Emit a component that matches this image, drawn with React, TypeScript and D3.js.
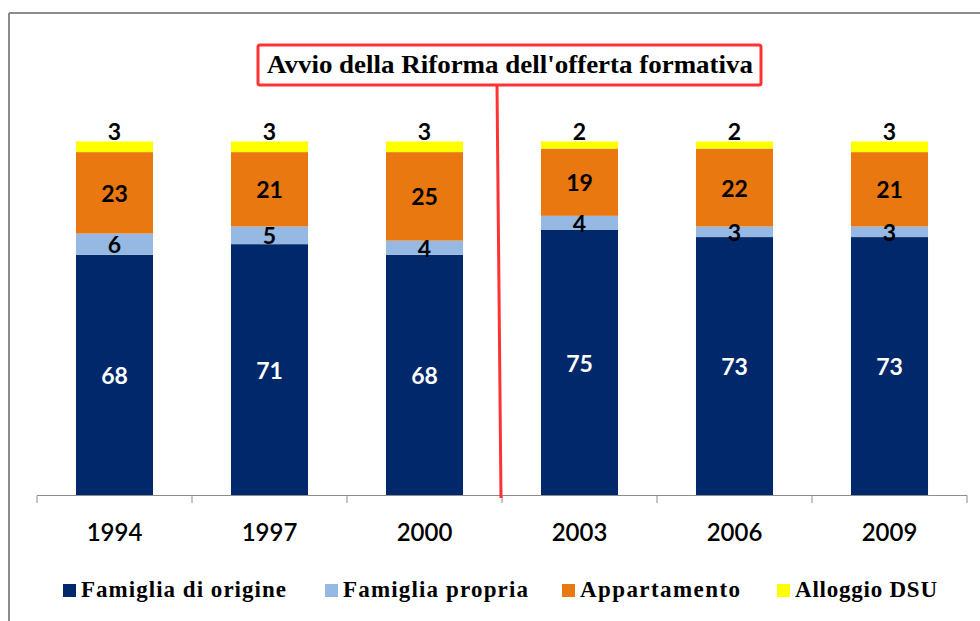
import * as d3 from "d3";

const years = ["1994", "1997", "2000", "2003", "2006", "2009"];
const famigliaOrigine = [68, 71, 68, 75, 73, 73];
const famigliaPropria = [6, 5, 4, 4, 3, 3];
const appartamento = [23, 21, 25, 19, 22, 21];
const alloggioDSU = [3, 3, 3, 2, 2, 3];

const seriesNames = ["Famiglia di origine", "Famiglia propria", "Appartamento", "Alloggio DSU"];
const seriesColors = ["#00286b", "#95b9e3", "#e8780f", "#ffff00"];
const annotation = "Avvio della Riforma dell'offerta formativa";

const W = 980;
const H = 621;

export default function App() {
  const rows = years.map((y, i) => ({
    year: y,
    [seriesNames[0]]: famigliaOrigine[i],
    [seriesNames[1]]: famigliaPropria[i],
    [seriesNames[2]]: appartamento[i],
    [seriesNames[3]]: alloggioDSU[i],
  }));
  const stack = d3.stack<any>().keys(seriesNames)(rows);

  const x = d3
    .scaleBand()
    .domain(years)
    .range([37, 967])
    .paddingInner(0.503)
    .paddingOuter(0.2515);
  const y = d3.scaleLinear().domain([0, 100]).range([495.5, 141.5]);

  const ticks = years.map((_, i) => 37 + i * x.step()).concat([967]);

  const legendX = [63, 325, 562, 777];
  const legendW = [205, 185, 160, 142];

  const labelFont = "Lato, 'Open Sans', sans-serif";
  const serif = "'Liberation Serif', 'DejaVu Serif', serif";

  return (
    <svg
      width={W}
      height={H}
      style={{ position: "absolute", left: 0, top: 0, background: "#fff" }}
    >
      {/* chart area border (only top and left visible) */}
      <line x1={9} y1={13} x2={W} y2={13} stroke="#8c8c8c" strokeWidth={2} />
      <line x1={9} y1={13} x2={9} y2={H} stroke="#8c8c8c" strokeWidth={2} />

      {/* bars */}
      {stack.map((s, si) => (
        <g key={s.key}>
          {s.map((d, i) => (
            <rect
              key={i}
              x={x(years[i])}
              y={y(d[1])}
              width={x.bandwidth()}
              height={y(d[0]) - y(d[1])}
              fill={seriesColors[si]}
            />
          ))}
        </g>
      ))}

      {/* labels */}
      {stack.map((s, si) => (
        <g key={"l" + s.key}>
          {s.map((d, i) => {
            const v = d[1] - d[0];
            const cx = x(years[i])! + x.bandwidth() / 2;
            const top = si === 3;
            const cy = top ? y(d[1]) - 11 : (y(d[0]) + y(d[1])) / 2;
            return (
              <text
                key={i}
                x={cx}
                y={cy}
                textAnchor="middle"
                dominantBaseline="central"
                fontFamily={labelFont}
                fontWeight={700}
                fontSize={23}
                fill={si === 0 ? "#ffffff" : "#000000"}
              >
                {v}
              </text>
            );
          })}
        </g>
      ))}

      {/* x axis */}
      <line x1={37} y1={495.5} x2={967} y2={495.5} stroke="#8c8c8c" strokeWidth={1} />
      {ticks.map((t, i) => (
        <line key={i} x1={t} y1={495.5} x2={t} y2={503} stroke="#8c8c8c" strokeWidth={1} />
      ))}
      {years.map((yr) => (
        <text
          key={yr}
          x={x(yr)! + x.bandwidth() / 2}
          y={531}
          textAnchor="middle"
          dominantBaseline="central"
          fontFamily={labelFont}
          fontWeight={600}
          fontSize={24}
          fill="#000"
        >
          {yr}
        </text>
      ))}

      {/* reform annotation */}
      <line x1={497} y1={85} x2={501} y2={498} stroke="#ff3333" strokeWidth={3} />
      <rect
        x={258}
        y={45}
        width={503}
        height={40}
        rx={2}
        fill="#fff"
        stroke="#ff3333"
        strokeWidth={3}
      />
      <text
        x={267}
        y={73}
        fontFamily={serif}
        fontWeight={700}
        fontSize={25}
        textLength={486}
        lengthAdjust="spacingAndGlyphs"
        fill="#000"
      >
        {annotation}
      </text>

      {/* legend */}
      {seriesNames.map((n, i) => (
        <g key={n}>
          <rect x={legendX[i]} y={584} width={13} height={13} fill={seriesColors[i]} />
          <text
            x={legendX[i] + 18}
            y={597}
            fontFamily={serif}
            fontWeight={700}
            fontSize={23}
            textLength={legendW[i]}
            lengthAdjust="spacing"
            fill="#000"
          >
            {n}
          </text>
        </g>
      ))}
    </svg>
  );
}
